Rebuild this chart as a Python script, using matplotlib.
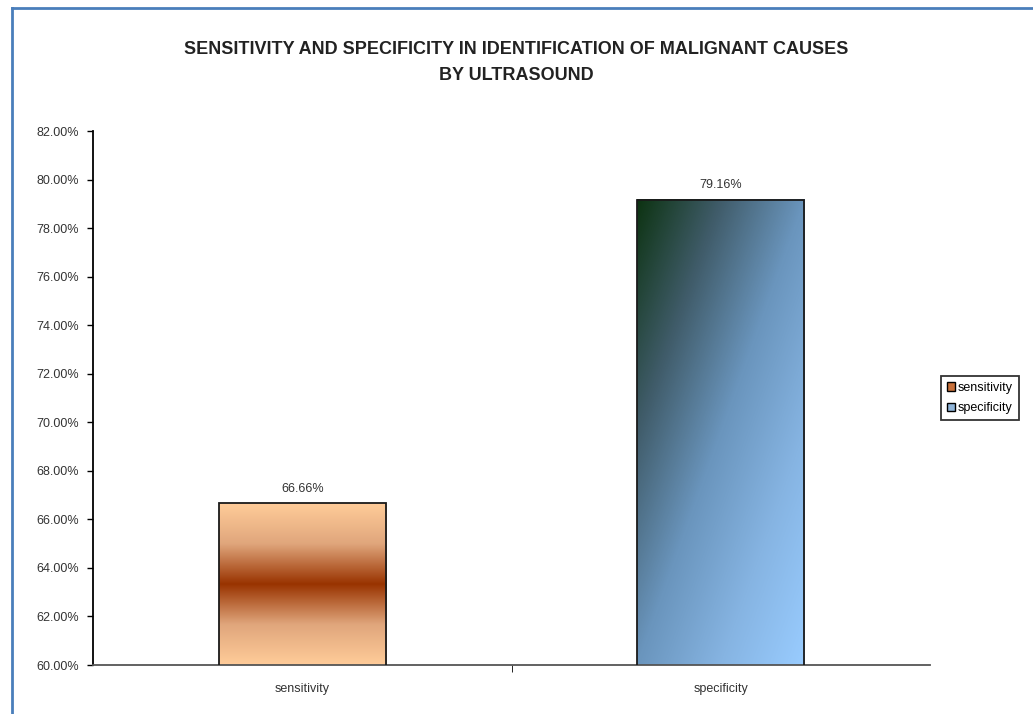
import numpy as np
import matplotlib.pyplot as plt
from matplotlib.colors import LinearSegmentedColormap
from matplotlib.patches import Rectangle

categories = ["sensitivity", "specificity"]
values = [66.66, 79.16]
value_labels = ["66.66%", "79.16%"]

plt.rcParams["font.family"] = ["Liberation Sans", "DejaVu Sans"]

fig = plt.figure(figsize=(10.33, 7.14), dpi=100)
ax = fig.add_axes([93 / 1033, 1 - 665 / 714, (930 - 93) / 1033, (665 - 131) / 714])

# outer chart frame (left and top edges only visible)
fig.add_artist(plt.Line2D([12 / 1033, 12 / 1033], [0, 1 - 8 / 714],
                          color="#4a7ebb", lw=2, transform=fig.transFigure))
fig.add_artist(plt.Line2D([12 / 1033, 1], [1 - 8 / 714, 1 - 8 / 714],
                          color="#4a7ebb", lw=2, transform=fig.transFigure))

x = np.arange(len(categories))
width = 0.4
bars = ax.bar(x, values, width=width, bottom=0, color="none",
              edgecolor="#1a1a1a", linewidth=1.3, zorder=3)

ymin, ymax = 60, 82

# sensitivity: horizontal band gradient, light -> brown -> light
sens_cmap = LinearSegmentedColormap.from_list(
    "sens", ["#ffcc99", "#e0a67c", "#993300", "#e0a67c", "#ffcc99"])
grad = np.linspace(0, 1, 256).reshape(-1, 1)
b = bars[0]
ax.imshow(grad, cmap=sens_cmap, aspect="auto", origin="lower",
          extent=[b.get_x(), b.get_x() + b.get_width(), ymin, values[0]],
          zorder=2)

# specificity: diagonal gradient, dark green top-left -> light blue bottom-right
spec_cmap = LinearSegmentedColormap.from_list(
    "spec", ["#0d3312", "#405c6a", "#6a95bd", "#86b4e2", "#99ccff"])
gx, gy = np.meshgrid(np.linspace(0, 1, 200), np.linspace(0, 1, 200))
diag = (gx + (1 - gy)) / 2
b = bars[1]
ax.imshow(diag, cmap=spec_cmap, aspect="auto", origin="lower",
          extent=[b.get_x(), b.get_x() + b.get_width(), ymin, values[1]],
          zorder=2)

ax.set_xlim(-0.5, 1.5)
ax.set_ylim(ymin, ymax)
yt = np.arange(60, 82.1, 2)
ax.set_yticks(yt)
ax.set_yticklabels([f"{v:.2f}%" for v in yt], fontsize=9, color="#333333")
ax.set_xticks(x)
ax.set_xticklabels(categories, fontsize=9, color="#333333")
ax.tick_params(axis="x", length=0, pad=13)
ax.tick_params(axis="y", length=4, direction="out", width=1, pad=6)
ax.set_xticks([0.5], minor=True)
ax.tick_params(axis="x", which="minor", length=5, direction="out")

for s in ["top", "right"]:
    ax.spines[s].set_visible(False)
ax.spines["left"].set_linewidth(1.3)
ax.spines["bottom"].set_linewidth(1.3)
ax.spines["bottom"].set_color("#555555")

for xi, v, lab in zip(x, values, value_labels):
    ax.text(xi, v + 0.35, lab, ha="center", va="bottom", fontsize=9,
            color="#333333")

fig.text(0.5, 1 - 50 / 714,
         "SENSITIVITY AND SPECIFICITY IN IDENTIFICATION OF MALIGNANT CAUSES",
         ha="center", va="center", fontsize=13, fontweight="bold", color="#222222")
fig.text(0.5, 1 - 76 / 714, "BY ULTRASOUND",
         ha="center", va="center", fontsize=13, fontweight="bold", color="#222222")

handles = [Rectangle((0, 0), 1, 1, facecolor="#c8703a", edgecolor="black"),
           Rectangle((0, 0), 1, 1, facecolor="#8fb4d8", edgecolor="black")]
leg = fig.legend(handles, categories, loc="center left",
                 bbox_to_anchor=(941 / 1033, 1 - 398 / 714), fontsize=9,
                 frameon=True, fancybox=False, edgecolor="black",
                 handlelength=0.7, handleheight=0.7, handletextpad=0.2,
                 borderpad=0.45, labelspacing=0.7, borderaxespad=0)
leg.get_frame().set_linewidth(1.3)

fig.savefig("out.png", dpi=100)
